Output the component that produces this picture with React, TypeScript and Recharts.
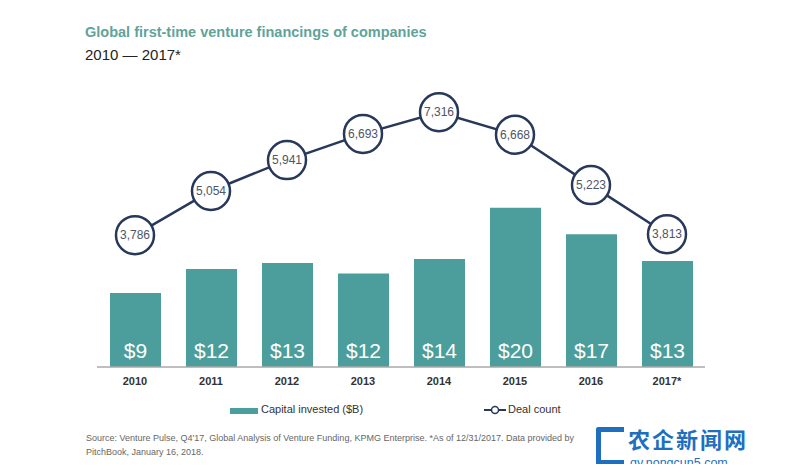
import React from "react";
import {ComposedChart, Bar, Line, XAxis, YAxis, LabelList} from "recharts";

const years = ["2010", "2011", "2012", "2013", "2014", "2015", "2016", "2017*"];
const capital = [9.25, 12.25, 13.0, 11.7, 13.5, 19.9, 16.6, 13.25];
const capitalLabels = ["$9", "$12", "$13", "$12", "$14", "$20", "$17", "$13"];
const deals = [3786, 5054, 5941, 6693, 7316, 6668, 5223, 3813];

const data = years.map((y, i) => ({year: y, capital: capital[i], label: capitalLabels[i], deals: deals[i]}));

const TEAL = "#4b9e9c";
const NAVY = "#27385a";
const FONT = "'Liberation Sans', Arial, sans-serif";

const BarLabel = (props: any) => {
    const {x, y, width, height, value} = props;
    return (
        <text x={x + width / 2} y={y + height - 17} textAnchor="middle" dominantBaseline="central"
              fill="#ffffff" fontSize={21} fontFamily={FONT}>{value}</text>
    );
};

const DealDot = (props: any) => {
    const {cx, cy, value, index} = props;
    return (
        <g key={"dot" + index}>
            <circle cx={cx} cy={cy} r={19} fill="#ffffff" stroke={NAVY} strokeWidth={2.5}/>
            <text x={cx} y={cy} textAnchor="middle" dominantBaseline="central" fontSize={12}
                  fill="#4d5566" fontFamily={FONT}>{value.toLocaleString("en-US")}</text>
        </g>
    );
};

export default () => {
    return (
        <div style={{position: "relative", width: 800, height: 472, margin: -8, background: "#fff", fontFamily: FONT, overflow: "hidden"}}>
            <div style={{position: "absolute", left: 85, top: 24, fontSize: 14.5, fontWeight: "bold", color: "#5fa39a"}}>
                Global first-time venture financings of companies
            </div>
            <div style={{position: "absolute", left: 85, top: 46, fontSize: 15, color: "#222"}}>
                2010 — 2017*
            </div>
            <ComposedChart width={800} height={472} data={data}
                           margin={{top: 87, right: 95, left: 97, bottom: 75}}
                           style={{fontFamily: FONT}}>
                <XAxis dataKey="year" height={30} axisLine={{stroke: "#a8a8a8", strokeWidth: 1.5}} tickLine={false}
                       tick={{fontSize: 11, fill: "#333", fontWeight: "bold"}} interval={0} tickMargin={4}/>
                <YAxis yAxisId="bar" hide domain={[0, 35]}/>
                <YAxis yAxisId="line" hide domain={[0, 8040]}/>
                <Bar yAxisId="bar" dataKey="capital" fill={TEAL} barSize={51} isAnimationActive={false}>
                    <LabelList dataKey="label" content={BarLabel}/>
                </Bar>
                <Line yAxisId="line" dataKey="deals" stroke={NAVY} strokeWidth={2.5} type="linear"
                      dot={DealDot} activeDot={false} isAnimationActive={false}/>
            </ComposedChart>
            <div style={{position: "absolute", top: 403, left: 0, width: 800, fontSize: 11, color: "#333"}}>
                <div style={{position: "absolute", left: 230, top: 5, width: 28, height: 6, background: TEAL}}/>
                <div style={{position: "absolute", left: 261, top: 0}}>Capital invested ($B)</div>
                <svg style={{position: "absolute", left: 483, top: 1}} width={24} height={12}>
                    <line x1={1} y1={6} x2={23} y2={6} stroke={NAVY} strokeWidth={2}/>
                    <circle cx={12} cy={6} r={3.5} fill="#fff" stroke={NAVY} strokeWidth={1.5}/>
                </svg>
                <div style={{position: "absolute", left: 508, top: 0}}>Deal count</div>
            </div>
            <div style={{position: "absolute", left: 86, top: 431, fontSize: 9, color: "#666", lineHeight: "14px", width: 500}}>
                Source: Venture Pulse, Q4'17, Global Analysis of Venture Funding, KPMG Enterprise. *As of 12/31/2017. Data provided by PitchBook, January 16, 2018.
            </div>
            <div style={{position: "absolute", left: 594, top: 424, width: 206, height: 46}}>
                <div style={{position: "absolute", left: 2, top: 3, width: 28, height: 38, border: "5px solid #1f6fc0", borderRight: "none", boxSizing: "border-box", borderRadius: "3px 0 0 3px"}}/>
                <div style={{position: "absolute", left: 34, top: 2, fontSize: 22, fontWeight: "bold", color: "#1f6fc0", fontFamily: "'Noto Sans CJK SC', sans-serif", lineHeight: "24px", height: 24, letterSpacing: 2}}>
                    农企新闻网
                </div>
                <div style={{position: "absolute", left: 36, top: 32, fontSize: 12.5, color: "#1f6fc0", lineHeight: "14px"}}>
                    qy.nongcun5.com
                </div>
            </div>
        </div>
    );
};
